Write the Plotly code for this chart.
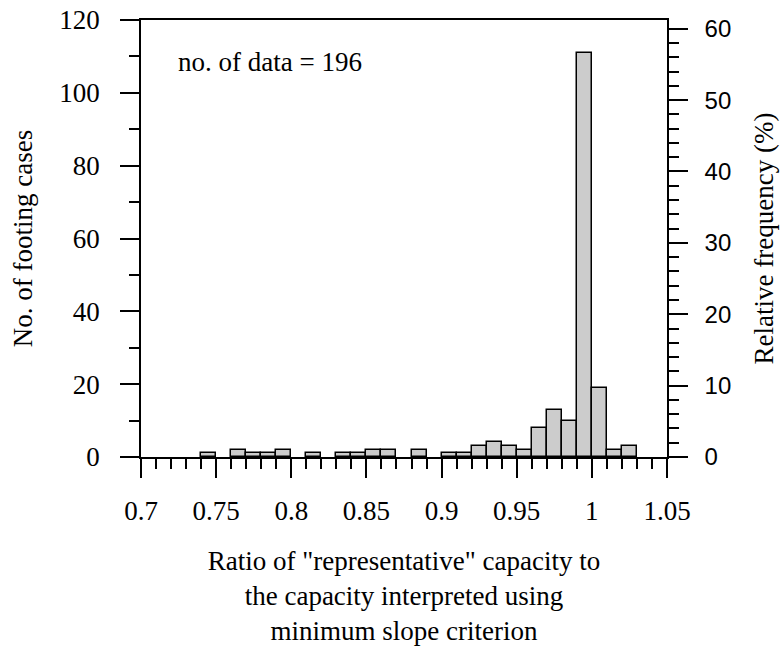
import plotly.graph_objects as go

# Histogram bins (left edge of each 0.01-wide bin) and counts
bin_left = [0.74, 0.76, 0.77, 0.78, 0.79, 0.81, 0.83, 0.84, 0.85, 0.86, 0.88,
            0.90, 0.91, 0.92, 0.93, 0.94, 0.95, 0.96, 0.97, 0.98, 0.99, 1.00,
            1.01, 1.02]
counts = [1, 2, 1, 1, 2, 1, 1, 1, 2, 2, 2,
          1, 1, 3, 4, 3, 2, 8, 13, 10, 111, 19,
          2, 3]
bin_width = 0.01
n_total = 196

x_tickvals = [0.7, 0.75, 0.8, 0.85, 0.9, 0.95, 1.0, 1.05]
x_ticktext = ["0.7", "0.75", "0.8", "0.85", "0.9", "0.95", "1", "1.05"]
y_tickvals = [0, 20, 40, 60, 80, 100, 120]
y2_tickvals = [0, 10, 20, 30, 40, 50, 60]

centers = [b + bin_width / 2 for b in bin_left]
rel = [c / n_total * 100 for c in counts]

FONT = "'Times New Roman', 'Liberation Serif', Times, serif"
SANS = "Arial, 'Liberation Sans', sans-serif"
FS = 27

fig = go.Figure()
fig.add_trace(go.Bar(
    x=centers, y=counts, width=[bin_width] * len(centers),
    marker=dict(color="#cccccc", line=dict(color="black", width=1.5)),
    showlegend=False, hoverinfo="x+y"))
fig.add_trace(go.Scatter(
    x=centers, y=rel, yaxis="y2", mode="markers",
    marker=dict(opacity=0), showlegend=False, hoverinfo="skip"))

tick_common = dict(ticks="outside", ticklen=19, tickwidth=1.5, tickcolor="black",
                   showline=True, linecolor="black", linewidth=1.5,
                   showgrid=False, zeroline=False, automargin=False,
                   ticklabeloverflow="allow")

fig.update_layout(
    width=784, height=646,
    margin=dict(l=141, r=117, t=20, b=189),
    paper_bgcolor="white", plot_bgcolor="white",
    font=dict(family=FONT, size=FS, color="black"),
    bargap=0,
    xaxis=dict(range=[0.7, 1.05], tickvals=x_tickvals, ticktext=x_ticktext,
               mirror=True,
               minor=dict(ticks="outside", ticklen=10, tickwidth=1.5, tickcolor="black",
                          dtick=0.01, tick0=0.7, showgrid=False),
               ticklabelstandoff=10,
               tickfont=dict(family=FONT, size=FS, color="black"),
               title=dict(text='Ratio of "representative" capacity to<br>the capacity interpreted using<br>minimum slope criterion',
                          font=dict(family=FONT, size=FS), standoff=28),
               **tick_common),
    yaxis=dict(range=[0, 120], tickvals=y_tickvals,
               minor=dict(ticks="outside", ticklen=10, tickwidth=1.5, tickcolor="black",
                          dtick=10, tick0=0, showgrid=False),
               ticklabelstandoff=15,
               tickfont=dict(family=FONT, size=FS, color="black"),
               title=dict(text="No. of footing cases", font=dict(family=FONT, size=FS), standoff=19),
               **tick_common),
    yaxis2=dict(range=[0, 120 / n_total * 100], tickvals=y2_tickvals,
                overlaying="y", side="right",
                minor=dict(ticks="outside", ticklen=10, tickwidth=1.5, tickcolor="black",
                           dtick=2, tick0=0, showgrid=False),
                ticklabelstandoff=12,
                tickfont=dict(family=SANS, size=24, color="black"),
                title=dict(text="Relative frequency (%)", font=dict(family=FONT, size=FS), standoff=24),
                **tick_common),
    annotations=[dict(text="no. of data = 196", xref="paper", yref="paper",
                      x=0.066, y=0.905, xanchor="left", yanchor="middle",
                      showarrow=False, font=dict(family=FONT, size=FS))],
)

fig.write_html("out.html",
               config={"displayModeBar": False},
               post_script="document.body.style.margin='0';document.body.style.overflow='hidden';")
